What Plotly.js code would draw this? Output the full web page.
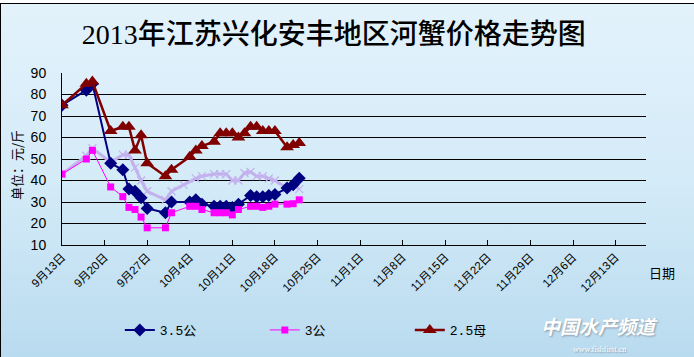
<!DOCTYPE html>
<html><head><meta charset="utf-8">
<script src="https://cdn.plot.ly/plotly-3.0.1.min.js"></script>
<style>
html,body{margin:0;padding:0;background:#fff;overflow:hidden}
#wrap{position:absolute;left:0;top:3px;width:694px;height:354px;box-sizing:border-box;border-top:1px solid #000;border-left:1px solid #000;background:linear-gradient(to bottom,#e3f2fb 0%,#d4ebf8 50%,#b9dbef 100%)}
#chart{width:693px;height:353px}
</style></head><body>
<div id="wrap"><div id="chart"></div></div>
<script>
const dates = ['2013-09-13','2013-09-17','2013-09-18','2013-09-21','2013-09-23','2013-09-24','2013-09-25','2013-09-26','2013-09-27','2013-09-30','2013-10-01','2013-10-03','2013-10-04','2013-10-05','2013-10-06','2013-10-08','2013-10-09','2013-10-10','2013-10-11','2013-10-12','2013-10-13','2013-10-14','2013-10-15','2013-10-16','2013-10-17','2013-10-18','2013-10-20','2013-10-21','2013-10-22'];
const price35m = [75,82,85,48,45,36,35,32,27,25,30,null,30,31,29,28,28,28,27.5,29,null,33,32.5,32.5,33,33.5,36.5,38,41];
const price3m = [43,50,54,37,32.5,27.5,26.5,23,18,18,25,null,28,28,26.5,25,25,25,24,26.5,null,28,28,27.5,28,29,29,29.2,31];
const price25f = [75,85,86,63,65,65,54,61,48,42,45,null,51,54,56,58,62,62,62,60,62,65,65,63,63,63,55.5,56.5,57.5];
const priceOther = [43,51.5,55,48.5,52,52,46,40,35,31,35,38,null,41,42,43,43,43,40,40,43.5,44,42,42,41,40,36.5,38,36];
const seriesNames = ['3.5公','3公','2.5母'];
const tickDates = ['2013-09-13','2013-09-20','2013-09-27','2013-10-04','2013-10-11','2013-10-18','2013-10-25','2013-11-01','2013-11-08','2013-11-15','2013-11-22','2013-11-29','2013-12-06','2013-12-13'];
const tickLabels = ['9月13日','9月20日','9月27日','10月4日','10月11日','10月18日','10月25日','11月1日','11月8日','11月15日','11月22日','11月29日','12月6日','12月13日'];

const traces = [
  {x:dates,y:priceOther,mode:'lines+markers',connectgaps:true,showlegend:false,
   line:{color:'#c3b2ee',width:3},marker:{symbol:'x-thin',size:8,line:{color:'#c3b2ee',width:1.2}}},
  {x:dates,y:price35m,name:seriesNames[0],mode:'lines+markers',connectgaps:true,
   line:{color:'#000080',width:2},marker:{symbol:'diamond',size:10,color:'#000080'}},
  {x:dates,y:price3m,name:seriesNames[1],mode:'lines+markers',connectgaps:true,
   line:{color:'#ff00ff',width:1},marker:{symbol:'square',size:7,color:'#ff00ff'}},
  {x:dates,y:price25f,name:seriesNames[2],mode:'lines+markers',connectgaps:true,
   line:{color:'#800000',width:2.5},marker:{symbol:'triangle-up',size:12,color:'#800000'}}
];

const layout = {
  width:693,height:353,
  margin:{l:61,r:48,t:69,b:112},
  paper_bgcolor:'rgba(0,0,0,0)',plot_bgcolor:'rgba(0,0,0,0)',
  title:{text:'2013年江苏兴化安丰地区河蟹价格走势图',xref:'container',x:0.48,xanchor:'center',yref:'container',y:0.915,yanchor:'middle',
    font:{family:"'Liberation Serif','Noto Sans CJK SC',serif",size:28,color:'#000',weight:500}},
  xaxis:{type:'date',range:['2013-09-13','2013-12-18'],tickvals:tickDates,ticktext:tickLabels,tickangle:-45,
    ticks:'inside',ticklen:5,tickcolor:'#000',showgrid:false,showline:true,linecolor:'#000',linewidth:1,zeroline:false,
    tickfont:{family:"'Liberation Sans','Noto Sans CJK SC',sans-serif",size:11.5,color:'#000'}},
  yaxis:{range:[10,90],dtick:10,showgrid:true,gridcolor:'#000',gridwidth:1,showline:true,linecolor:'#000',linewidth:1,
    zeroline:false,ticks:'',ticklabelstandoff:12,
    tickfont:{family:"'Liberation Sans',sans-serif",size:14,color:'#000'}},
  showlegend:true,
  legend:{orientation:'h',x:0.099,xanchor:'left',y:-0.494,yanchor:'middle',bgcolor:'rgba(0,0,0,0)',
    entrywidth:100,font:{family:"'Liberation Mono','Noto Sans CJK SC',monospace",size:13,color:'#000'}},
  hovermode:false,
  annotations:[
    {text:'单位：元/斤',xref:'paper',yref:'paper',x:-0.0788,y:0.465,textangle:-90,showarrow:false,xanchor:'center',yanchor:'middle',
     font:{family:"'Noto Sans CJK SC',sans-serif",size:13,color:'#000'}},
    {text:'日期',xref:'paper',yref:'paper',x:1.027,y:-0.157,showarrow:false,xanchor:'center',yanchor:'middle',
     font:{family:"'Noto Sans CJK SC',sans-serif",size:13,color:'#000'}},
    {text:'<i><b>中国水产频道</b></i>',xref:'paper',yref:'paper',x:0.921,y:-0.468,showarrow:false,xanchor:'center',yanchor:'middle',
     font:{family:"'Noto Sans CJK SC',sans-serif",size:19,color:'#ffffff',shadow:'1px 1px 2px #8a9aa6'}},
    {text:'www.fishfirst.cn',xref:'paper',yref:'paper',x:0.921,y:-0.605,showarrow:false,xanchor:'center',yanchor:'middle',
     font:{family:"'Liberation Serif',serif",size:8,color:'#ffffff',shadow:'1px 1px 1px #8a9aa6'}}
  ]
};
Plotly.newPlot('chart',traces,layout,{displayModeBar:false,staticPlot:true});
</script>
</body></html>
